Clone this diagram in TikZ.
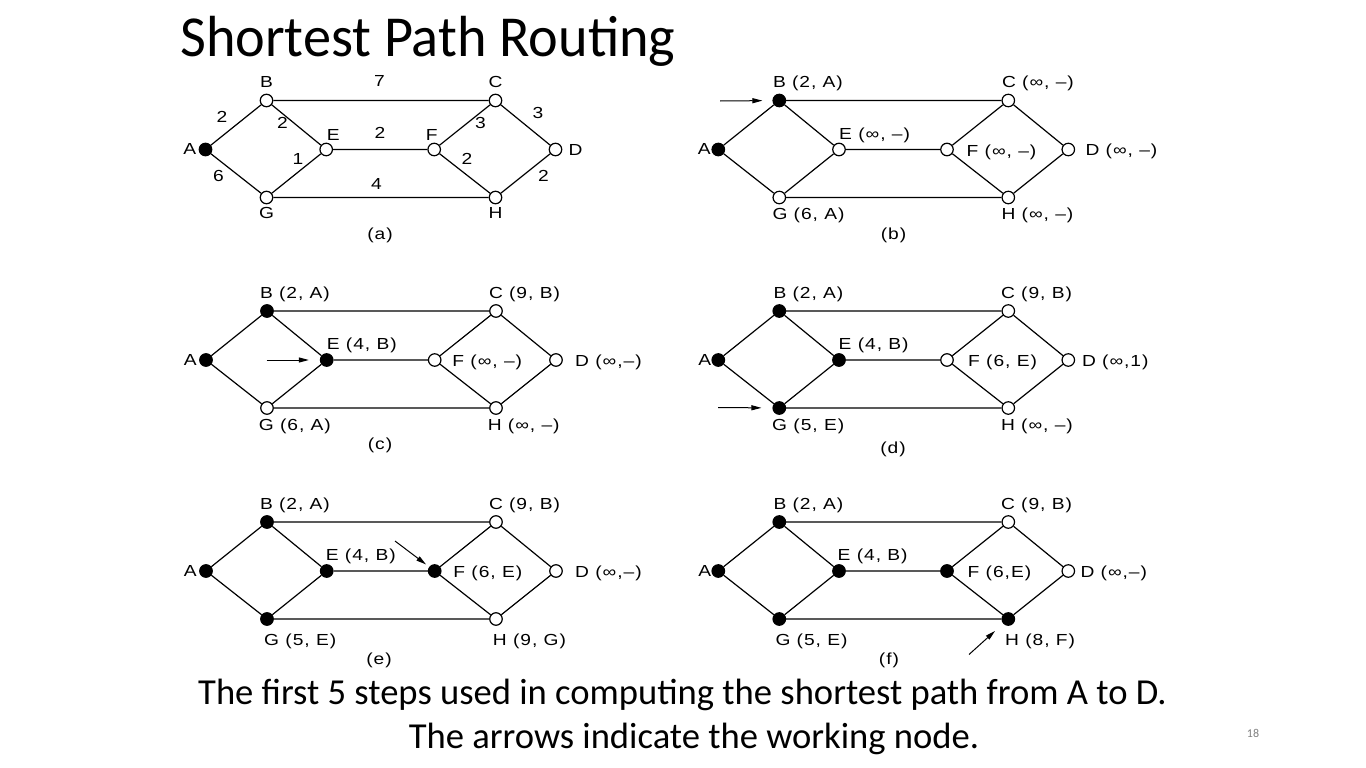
\documentclass[tikz,border=0pt]{standalone}
\usepackage{fontspec}
\usetikzlibrary{arrows.meta,calc}
\newfontfamily\labfont[FakeStretch=1.2,LetterSpace=6]{Liberation Sans}
\newfontfamily\slidefont{Carlito}
\newfontfamily\headfont[FakeStretch=0.97]{Carlito}

% One copy of the eight-router network; node A sits at (#2,#3).
% A node gets a solid fill when the style named <prefix><letter> exists.
\newcommand\graphpanel[3]{%
  \node[vtx,#1A/.try] (#1A) at (#2,#3) {};
  \node[vtx,#1B/.try] (#1B) at ({#2+61},{#3-49}) {};
  \node[vtx,#1C/.try] (#1C) at ({#2+290},{#3-49}) {};
  \node[vtx,#1E/.try] (#1E) at ({#2+120.7},{#3}) {};
  \node[vtx,#1F/.try] (#1F) at ({#2+228.7},{#3}) {};
  \node[vtx,#1D/.try] (#1D) at ({#2+350},{#3}) {};
  \node[vtx,#1G/.try] (#1G) at ({#2+61},{#3+48}) {};
  \node[vtx,#1H/.try] (#1H) at ({#2+290},{#3+48}) {};
  \draw[edge] (#1A) -- (#1B) (#1A) -- (#1G) (#1B) -- (#1E) (#1G) -- (#1E)
              (#1B) -- (#1C) (#1G) -- (#1H) (#1E) -- (#1F) (#1F) -- (#1C)
              (#1F) -- (#1H) (#1C) -- (#1D) (#1H) -- (#1D);
}

\begin{document}
\begin{tikzpicture}[x=1pt,y=-1pt,
  vtx/.style={circle,draw=black,line width=1.2pt,fill=white,minimum size=12.5pt,inner sep=0pt},
  done/.style={fill=black},
  edge/.style={line width=1.2pt},
  lab/.style={font=\labfont\fontsize{16}{19}\selectfont,inner sep=0pt,anchor=base west},
  labr/.style={lab,anchor=base east},
  labc/.style={lab,anchor=base},
  wt/.style={font=\labfont\fontsize{16}{19}\selectfont,inner sep=0pt,anchor=center},
  ptr/.style={line width=1pt,-{Triangle[length=10pt,width=5pt]}},
  % routers already made permanent in each step
  paA/.style={done},
  pbA/.style={done}, pbB/.style={done},
  pcA/.style={done}, pcB/.style={done}, pcE/.style={done},
  pdA/.style={done}, pdB/.style={done}, pdE/.style={done}, pdG/.style={done},
  peA/.style={done}, peB/.style={done}, peE/.style={done}, peG/.style={done}, peF/.style={done},
  pfA/.style={done}, pfB/.style={done}, pfE/.style={done}, pfG/.style={done}, pfF/.style={done}, pfH/.style={done}]

\fill[white] (0,0) rectangle (1366,768);
\useasboundingbox (0,0) rectangle (1366,768);

% heading
\node[anchor=base west,font=\headfont\fontsize{58}{60}\selectfont,inner sep=0pt] (title) at (180,57) {Shortest Path Routing};

% ---------------- (a) the network with link costs
\graphpanel{pa}{205.5}{149.5}
\node[labr] (laA) at ($(paA)+(-9,4.5)$) {A};
\node[labc] (laB) at ($(paB)+(0,-13.2)$) {B};
\node[labc] (laC) at ($(paC)+(0,-13.2)$) {C};
\node[lab]  (laD) at ($(paD)+(13,5.8)$) {D};
\node[lab]  (laE) at ($(paE)+(0.5,-9.2)$) {E};
\node[labc] (laF) at ($(paF)+(-2.5,-9.2)$) {F};
\node[labc] (laG) at ($(paG)+(0,21.3)$) {G};
\node[labc] (laH) at ($(paH)+(0,21.3)$) {H};
\node[wt] (wAB) at (222,116.5) {2};
\node[wt] (wBE) at (282.5,123) {2};
\node[wt] (wBC) at (379.5,81) {7};
\node[wt] (wEF) at (380,132.5) {2};
\node[wt] (wCF) at (480.5,123) {3};
\node[wt] (wCD) at (538,112.5) {3};
\node[wt] (wGE) at (298,159) {1};
\node[wt] (wFH) at (467,159) {2};
\node[wt] (wAG) at (218.5,176) {6};
\node[wt] (wGH) at (376.5,184) {4};
\node[wt] (wHD) at (543.5,175.5) {2};
\node[wt] (capa) at (380,235) {(a)};

% ---------------- (b) B becomes the working node
\graphpanel{pb}{718.3}{149.5}
\node[labr] (lbA) at ($(pbA)+(-7.5,5.3)$) {A};
\node[lab] (lbB) at ($(pbB)+(-6.5,-12.7)$) {B (2, A)};
\node[lab] (lbC) at ($(pbC)+(-6.5,-12.7)$) {C (∞, –)};
\node[lab] (lbE) at ($(pbE)+(0,-10.2)$) {E (∞, –)};
\node[lab] (lbF) at ($(pbF)+(19.5,6.8)$) {F (∞, –)};
\node[lab] (lbD) at ($(pbD)+(17,6.3)$) {D (∞, –)};
\node[lab] (lbG) at ($(pbG)+(-7,22.3)$) {G (6, A)};
\node[lab] (lbH) at ($(pbH)+(-7,22.3)$) {H (∞, –)};
\node[wt] (capb) at (893.5,235) {(b)};
\coordinate (tb) at (720,101);
\draw[ptr,shorten >=10pt] (tb) -- (pbB);

% ---------------- (c) E becomes the working node
\graphpanel{pc}{206}{360}
\node[labr] (lcA) at ($(pcA)+(-9,5.3)$) {A};
\node[lab] (lcB) at ($(pcB)+(-7.2,-12.7)$) {B (2, A)};
\node[lab] (lcC) at ($(pcC)+(-7.2,-12.7)$) {C (9, B)};
\node[lab] (lcE) at ($(pcE)+(0,-10.2)$) {E (4, B)};
\node[lab] (lcF) at ($(pcF)+(17.5,6.8)$) {F (∞, –)};
\node[lab] (lcD) at ($(pcD)+(19,6.3)$) {D (∞,–)};
\node[lab] (lcG) at ($(pcG)+(-8.4,22.3)$) {G (6, A)};
\node[lab] (lcH) at ($(pcH)+(-8.4,22.3)$) {H (∞, –)};
\node[wt] (capc) at (380,445) {(c)};
\coordinate (tc) at (266.7,360);
\draw[ptr,shorten >=11pt] (tc) -- (pcE);

% ---------------- (d) G becomes the working node
\graphpanel{pd}{718.3}{360}
\node[labr] (ldA) at ($(pdA)+(-7,5.3)$) {A};
\node[lab] (ldB) at ($(pdB)+(-6,-12.7)$) {B (2, A)};
\node[lab] (ldC) at ($(pdC)+(-7.5,-12.7)$) {C (9, B)};
\node[lab] (ldE) at ($(pdE)+(-0.5,-10.2)$) {E (4, B)};
\node[lab] (ldF) at ($(pdF)+(21,6.8)$) {F (6, E)};
\node[lab] (ldD) at ($(pdD)+(13.5,6.3)$) {D (∞,1)};
\node[lab] (ldG) at ($(pdG)+(-7.3,22.3)$) {G (5, E)};
\node[lab] (ldH) at ($(pdH)+(-7.5,22.3)$) {H (∞, –)};
\node[wt] (capd) at (893,449) {(d)};
\coordinate (td) at (718,407.5);
\draw[ptr,shorten >=11pt] (td) -- (pdG);

% ---------------- (e) F becomes the working node
\graphpanel{pe}{206}{571}
\node[labr] (leA) at ($(peA)+(-9,5.3)$) {A};
\node[lab] (leB) at ($(peB)+(-7.2,-12.7)$) {B (2, A)};
\node[lab] (leC) at ($(peC)+(-7.2,-12.7)$) {C (9, B)};
\node[lab] (leE) at ($(peE)+(-1,-10.2)$) {E (4, B)};
\node[lab] (leF) at ($(peF)+(18.5,6.8)$) {F (6, E)};
\node[lab] (leD) at ($(peD)+(19,6.3)$) {D (∞,–)};
\node[lab] (leG) at ($(peG)+(-3,26.3)$) {G (5, E)};
\node[lab] (leH) at ($(peH)+(-3.3,26.3)$) {H (9, G)};
\node[wt] (cape) at (379,660) {(e)};
\coordinate (te) at (395,541);
\draw[ptr,shorten >=4pt] (te) -- (peF);

% ---------------- (f) H becomes the working node
\graphpanel{pf}{718.3}{571}
\node[labr] (lfA) at ($(pfA)+(-7,5.3)$) {A};
\node[lab] (lfB) at ($(pfB)+(-6,-12.7)$) {B (2, A)};
\node[lab] (lfC) at ($(pfC)+(-7.5,-12.7)$) {C (9, B)};
\node[lab] (lfE) at ($(pfE)+(-1.5,-10.2)$) {E (4, B)};
\node[lab] (lfF) at ($(pfF)+(20.5,6.8)$) {F (6,E)};
\node[lab] (lfD) at ($(pfD)+(12,6.3)$) {D (∞,–)};
\node[lab] (lfG) at ($(pfG)+(-4,26.3)$) {G (5, E)};
\node[lab] (lfH) at ($(pfH)+(-3.3,26.3)$) {H (8, F)};
\node[wt] (capf) at (889,660) {(f)};
\coordinate (tf) at (969,654.5);
\draw[ptr,shorten >=11pt] (tf) -- (pfH);

% caption and slide number
\node[anchor=base,font=\slidefont\fontsize{36.6}{40}\selectfont,inner sep=0pt] (cap1) at (682.5,704) {The first 5 steps used in computing the shortest path from A to D.};
\node[anchor=base,font=\slidefont\fontsize{36.6}{40}\selectfont,inner sep=0pt] (cap2) at (694,748) {The arrows indicate the working node.};
\node[font=\slidefont\fontsize{12}{14}\selectfont,text=black!50,inner sep=0pt] (pgno) at (1253,733) {18};
\end{tikzpicture}
\end{document}
